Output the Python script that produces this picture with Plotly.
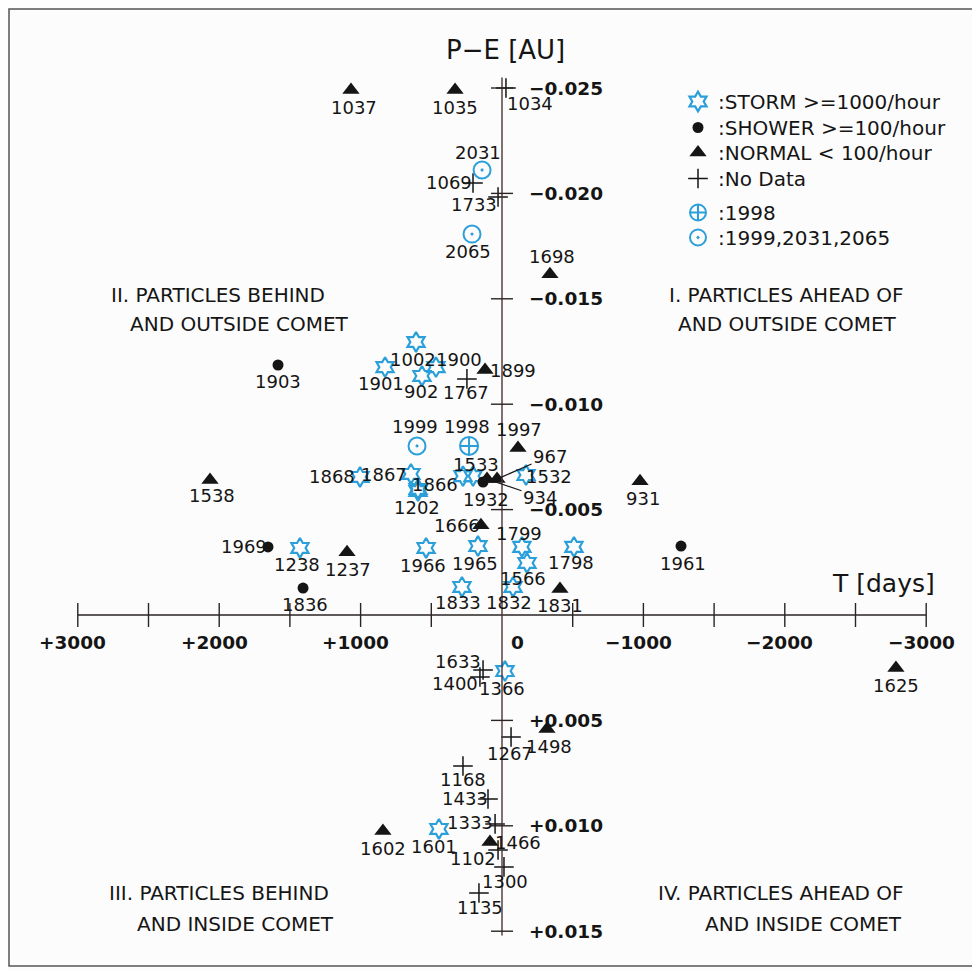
import plotly.graph_objects as go

# ---------------- data ----------------
# STORM >= 1000/hour
storm_year = ["1002", "1901", "902", "1900", "1868", "1867", "1866", "1202", "", "1533",
              "1532", "1966", "1965", "1238", "1799", "1798", "1566", "1833", "1832", "1366", "1601"]
storm_t = [608, 827, 566, 467, 1004, 644, 594, 594, 276, 205,
           -170, 537, 170, 1429, -141, -509, -177, 283, -78, -21, 446]
storm_pe = [-0.01295, -0.01176, -0.01134, -0.01176, -0.00655, -0.00669, -0.00598, -0.00588, -0.00659, -0.00659,
            -0.00664, -0.00318, -0.00327, -0.00318, -0.00323, -0.00323, -0.00247, -0.00133, -0.00133, 0.00266, 0.01015]

# SHOWER >= 100/hour
shower_year = ["1903", "1932", "1969", "1836", "1961"]
shower_t = [1584, 134, 1655, 1407, -1266]
shower_pe = [-0.01186, -0.00631, -0.00323, -0.00128, -0.00327]

# NORMAL < 100/hour
normal_year = ["1037", "1035", "1698", "1899", "1997", "967", "934", "931", "1538", "1666",
               "1237", "1831", "1625", "1498", "1602", "1466"]
normal_t = [1068, 332, -339, 120, -113, 35, 106, -976, 2065, 149,
            1096, -410, -2786, -318, 842, 85]
normal_pe = [-0.0249, -0.0249, -0.01617, -0.01162, -0.00792, -0.00645, -0.00645, -0.00635, -0.0064, -0.00426,
             -0.00298, -0.00123, 0.00252, 0.00541, 0.01025, 0.01077]

# No data
nodata_year = ["1034", "1069", "1733", "1767", "1633", "1400", "1267", "1168", "1433", "1333",
               "1102", "1300", "1135"]
nodata_t = [-28, 205, 28, 248, 134, 156, -64, 276, 99, 49, 28, -14, 163]
nodata_pe = [-0.0250, -0.02049, -0.01983, -0.0112, 0.00261, 0.00294, 0.00579, 0.00716, 0.00873, 0.00991,
             0.01115, 0.01195, 0.01319]

# 1998
y1998_year = ["1998"]
y1998_t = [233]
y1998_pe = [-0.00802]

# 1999, 2031, 2065
future_year = ["1999", "2031", "2065"]
future_t = [601, 141, 212]
future_pe = [-0.00802, -0.02111, -0.01807]

# axes ticks
x_ticks = [3000, 2500, 2000, 1500, 1000, 500, -500, -1000, -1500, -2000, -2500, -3000]
x_labeled = [3000, 2000, 1000, 0, -1000, -2000, -3000]
x_labels = ["+3000", "+2000", "+1000", "0", "\u22121000", "\u22122000", "\u22123000"]
y_ticks = [-0.025, -0.020, -0.015, -0.010, -0.005, 0.005, 0.010, 0.015]
y_labels = ["\u22120.025", "\u22120.020", "\u22120.015", "\u22120.010", "\u22120.005", "+0.005", "+0.010", "+0.015"]

legend_names = [":STORM &gt;=1000/hour", ":SHOWER &gt;=100/hour", ":NORMAL &lt; 100/hour",
                ":No Data", ":1998", ":1999,2031,2065"]

quadrant_lines = [
    ("II. PARTICLES BEHIND", 218, 295), ("AND OUTSIDE COMET", 239, 324),
    ("I. PARTICLES AHEAD OF", 786, 295), ("AND OUTSIDE COMET", 787, 324),
    ("III. PARTICLES BEHIND", 219, 893), ("AND INSIDE COMET", 235, 924),
    ("IV. PARTICLES AHEAD OF", 781, 893), ("AND INSIDE COMET", 803, 924),
]

# ---------------- styles ----------------
W, H = 980, 971
OFF = 8  # page body margin in the browser
FONT = "DejaVu Sans"
BLACK = "#151515"
BLUE = "#2b9fd9"
LABEL_SIZE = 18

# legend rows (page pixel y of each entry's centre)
legend_row_y = [102, 128, 153, 179, 213, 238]
LEGEND_SYMBOL_X = 698

# label offsets from the mark (pixels, +dx right, +dy down)
label_off = {
    "1037": (3, 17), "1035": (0, 17), "1698": (2, -18), "1899": (28, 0), "1997": (1, -19),
    "931": (3, 17), "1538": (2, 15), "1666": (-24, 0), "1237": (1, 17), "1831": (0, 16),
    "1625": (0, 17), "1498": (2, 17), "1602": (0, 17), "1466": (28, 0),
    "1903": (0, 17), "1932": (3, 18), "1969": (-24, 0), "1836": (2, 16), "1961": (2, 17),
    "1002": (-3, 17), "1901": (-4, 16), "902": (-1, 16), "1900": (23, -8), "1868": (-28, 0),
    "1867": (-27, 1), "1866": (17, -4), "1202": (-1, 16), "1533": (3, -12), "1532": (23, 1),
    "1966": (-3, 18), "1965": (-3, 17), "1238": (-3, 17), "1799": (-3, -13), "1798": (-3, 16),
    "1566": (-4, 16), "1833": (-4, 16), "1832": (-4, 16), "1366": (-3, 17), "1601": (-5, 18),
    "1034": (24, 15), "1069": (-24, -1), "1733": (-24, 8), "1767": (-1, 14), "1633": (-25, -9),
    "1400": (-25, 7), "1267": (-1, 16), "1168": (0, 14), "1433": (-23, -1), "1333": (-25, -1),
    "1102": (-25, 8), "1300": (1, 15), "1135": (1, 14),
    "1998": (-2, -19), "1999": (-2, -19), "2031": (-4, -18), "2065": (-4, 17),
}
# labels drawn with a leader line: (dx, dy) pixel offsets of the text
leader = {"967": (53, -23), "934": (53, 18)}

fig = go.Figure()

groups = [
    (storm_year, storm_t, storm_pe, dict(symbol="hexagram-open", size=15, color=BLUE, line=dict(width=2.2, color=BLUE))),
    (shower_year, shower_t, shower_pe, dict(symbol="circle", size=11, color=BLACK)),
    (normal_year, normal_t, normal_pe, dict(symbol="triangle-up", size=15, color=BLACK)),
    (nodata_year, nodata_t, nodata_pe, dict(symbol="cross-thin-open", size=14, color=BLACK, line=dict(width=1.5, color=BLACK))),
    (y1998_year, y1998_t, y1998_pe, dict(symbol="circle-cross-open", size=18, color=BLUE, line=dict(width=2, color=BLUE))),
    (future_year, future_t, future_pe, dict(symbol="circle-open-dot", size=17, color=BLUE, line=dict(width=2, color=BLUE))),
]

lab_font = dict(family=FONT, size=LABEL_SIZE, color=BLACK)
legend_layout = {}
for li, (years, ts, pes, mk) in enumerate(groups):
    fig.add_trace(go.Scatter(
        x=ts, y=pes, mode="markers", marker=mk, text=years,
        showlegend=False, hoverinfo="text", cliponaxis=False,
    ))
    lname = "legend" if li == 0 else "legend%d" % (li + 1)
    fig.add_trace(go.Scatter(
        x=[None], y=[None], mode="markers", marker=dict(mk), name=legend_names[li],
        legend=lname, showlegend=True,
    ))
    legend_layout[lname] = dict(
        x=(LEGEND_SYMBOL_X - 20 - OFF) / W, y=1 - (legend_row_y[li] - 20 - OFF) / H,
        xanchor="left", yanchor="top", font=dict(family=FONT, size=20, color=BLACK),
        bgcolor="rgba(0,0,0,0)", itemsizing="trace",
    )
    for y, t, pe in zip(years, ts, pes):
        if not y:
            continue
        if y in leader:
            dx, dy = leader[y]
            fig.add_annotation(x=t, y=pe, text=y, showarrow=True, arrowhead=0, arrowwidth=1.2,
                               arrowcolor=BLACK, ax=dx, ay=dy, standoff=3, font=lab_font)
        else:
            dx, dy = label_off.get(y, (0, 17))
            fig.add_annotation(x=t, y=pe, text=y, showarrow=False, xanchor="center", yanchor="middle",
                               xshift=dx, yshift=-dy, font=lab_font)

# ---------------- axes drawn through the data scales ----------------
AX = "#2a2424"
fig.add_shape(type="line", xref="x", yref="y", x0=x_ticks[0], x1=x_ticks[-1], y0=0, y1=0,
              line=dict(color=AX, width=1.4))
fig.add_shape(type="line", xref="x", yref="y", x0=0, x1=0, y0=-0.0255, y1=0.0152,
              line=dict(color="#4a3434", width=1.4))
for t in x_ticks:
    fig.add_shape(type="line", xref="x", yref="y", ysizemode="pixel", yanchor=0,
                  x0=t, x1=t, y0=-12, y1=12, line=dict(color=AX, width=1.4))
for p in y_ticks:
    fig.add_shape(type="line", xref="x", yref="y", xsizemode="pixel", xanchor=0,
                  y0=p, y1=p, x0=-11, x1=11, line=dict(color=AX, width=1.4))

for t, lab in zip(x_labeled, x_labels):
    fig.add_annotation(x=t, y=0, text=lab, showarrow=False, xanchor="center", yanchor="middle",
                       xshift=(15 if t == 0 else -5), yshift=-27,
                       font=dict(family=FONT, size=18.5, color=BLACK, weight="bold"))
for p, lab in zip(y_ticks, y_labels):
    fig.add_annotation(x=0, y=p, text=lab, showarrow=False, xanchor="left", yanchor="middle",
                       xshift=25, font=dict(family=FONT, size=18.5, color=BLACK, weight="bold"))

fig.add_annotation(x=0, y=y_ticks[0], text="P\u2212E [AU]", showarrow=False, xanchor="center",
                   yanchor="middle", xshift=3, yshift=38, font=dict(family=FONT, size=26, color=BLACK))
fig.add_annotation(x=x_ticks[-1], y=0, text="T [days]", showarrow=False, xanchor="right",
                   yanchor="middle", xshift=11, yshift=32, font=dict(family=FONT, size=25, color=BLACK))

for txt, px, py in quadrant_lines:
    fig.add_annotation(xref="paper", yref="paper", x=(px - OFF) / W, y=1 - (py - OFF) / H, text=txt,
                       showarrow=False, xanchor="center", yanchor="middle",
                       font=dict(family=FONT, size=20, color=BLACK))

# frame (kept inside the figure so that every side is drawn)
fig.add_shape(type="rect", xref="paper", yref="paper", x0=1 / W, x1=(976 - OFF) / W,
              y0=1 - (966 - OFF) / H, y1=1 - 1 / H, line=dict(color="#555555", width=1.5))

# axis ranges chosen so that T=0 sits at x=502 px and P-E=0 at y=615 px on the page
PX_PER_DAY = 0.1414
PX_PER_AU = 21080
fig.update_xaxes(range=[(502 - OFF) / PX_PER_DAY, (502 - OFF - W) / PX_PER_DAY], visible=False)
fig.update_yaxes(range=[(H + OFF - 615) / PX_PER_AU, (OFF - 615) / PX_PER_AU], visible=False)

fig.update_layout(
    width=W, height=H, autosize=False,
    margin=dict(l=0, r=0, t=0, b=0),
    paper_bgcolor="#fdfcfc", plot_bgcolor="#fdfcfc",
    font=dict(family=FONT, color=BLACK),
    **legend_layout,
)

fig.write_html("out.html")
